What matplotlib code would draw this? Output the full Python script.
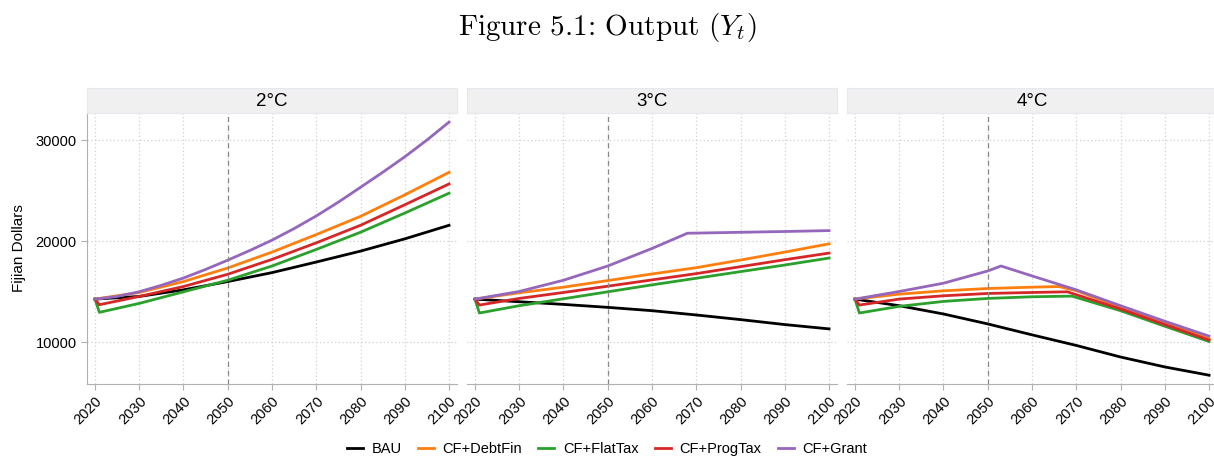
import matplotlib
matplotlib.use("Agg")
import matplotlib.pyplot as plt
from matplotlib.lines import Line2D

plt.rcParams["font.family"] = ["Liberation Sans", "DejaVu Sans"]
plt.rcParams["mathtext.fontset"] = "cm"

# ---------------------------------------------------------------------------
# Data
# ---------------------------------------------------------------------------
panels = ["2°C", "3°C", "4°C"]
series = ["BAU", "CF+DebtFin", "CF+FlatTax", "CF+ProgTax", "CF+Grant"]
colors = ["#000000", "#ff7f0e", "#2ca02c", "#d62728", "#9467bd"]

years_dec = [2020, 2030, 2040, 2050, 2060, 2070, 2080, 2090, 2100]
years_drop = [2020, 2021, 2030, 2040, 2050, 2060, 2070, 2080, 2090, 2100]
years_5 = [2020, 2025, 2030, 2035, 2040, 2045, 2050, 2055, 2060,
           2065, 2070, 2075, 2080, 2085, 2090, 2095, 2100]

# 2°C
bau_2 = [14260, 14525, 15180, 16000, 16885, 17934, 19016, 20230, 21574]
debt_2 = [14260, 14918, 16000, 17344, 18918, 20656, 22459, 24590, 26820]
flat_2 = [14260, 12951, 13836, 14984, 16131, 17541, 19180, 20885, 22787, 24754]
prog_2 = [14260, 13705, 14525, 15508, 16721, 18197, 19836, 21574, 23607, 25672]
grant_2 = [14260, 14520, 14990, 15630, 16350, 17200, 18120, 19080, 20100,
           21250, 22500, 23870, 25340, 26820, 28360, 30020, 31800]

# 3°C
bau_3 = [14260, 14000, 13738, 13443, 13115, 12689, 12230, 11738, 11311]
debt_3 = [14260, 14885, 15443, 16098, 16754, 17377, 18131, 18918, 19738]
flat_3 = [14260, 12885, 13607, 14295, 14984, 15672, 16328, 16984, 17639, 18328]
prog_3 = [14260, 13672, 14328, 14918, 15541, 16164, 16787, 17475, 18164, 18820]
grant_3_years = [2020, 2030, 2040, 2050, 2060, 2068, 2080, 2090, 2100]
grant_3 = [14260, 15016, 16131, 17541, 19279, 20787, 20880, 20960, 21049]

# 4°C
bau_4 = [14260, 13607, 12787, 11803, 10721, 9672, 8525, 7541, 6721]
debt_4_years = [2020, 2030, 2040, 2050, 2060, 2066, 2070, 2080, 2090, 2100]
debt_4 = [14260, 14754, 15082, 15311, 15443, 15508, 15100, 13443, 11902, 10328]
flat_4_years = [2020, 2021, 2030, 2040, 2050, 2060, 2069, 2080, 2090, 2100]
flat_4 = [14260, 12885, 13541, 14033, 14328, 14492, 14557, 13115, 11574, 10066]
prog_4_years = [2020, 2021, 2030, 2040, 2050, 2060, 2068, 2080, 2090, 2100]
prog_4 = [14260, 13672, 14262, 14590, 14820, 14918, 14984, 13279, 11738, 10197]
grant_4_years = [2020, 2030, 2040, 2050, 2053, 2060, 2070, 2080, 2090, 2100]
grant_4 = [14260, 15016, 15836, 17049, 17541, 16557, 15180, 13607, 12066, 10590]

data = [
    [(years_dec, bau_2), (years_dec, debt_2), (years_drop, flat_2),
     (years_drop, prog_2), (years_5, grant_2)],
    [(years_dec, bau_3), (years_dec, debt_3), (years_drop, flat_3),
     (years_drop, prog_3), (grant_3_years, grant_3)],
    [(years_dec, bau_4), (debt_4_years, debt_4), (flat_4_years, flat_4),
     (prog_4_years, prog_4), (grant_4_years, grant_4)],
]

# ---------------------------------------------------------------------------
# Figure
# ---------------------------------------------------------------------------
W, H = 1214, 459
fig = plt.figure(figsize=(W / 100, H / 100), dpi=100)

fig.text(0.5, 1 - 28 / H, "Figure 5.1: Output ($Y_t$)", family="cmr10",
         ha="center", va="center", fontsize=21)

lefts = [87, 467, 847]
pw = 370
ax_bottom = (H - 384) / H
ax_top = (H - 113) / H
strip_h = 25 / H

for i, (lx, label) in enumerate(zip(lefts, panels)):
    ax = fig.add_axes([lx / W, ax_bottom, pw / W, ax_top - ax_bottom])
    for (x, y), c in zip(data[i], colors):
        ax.plot(x, y, color=c, lw=2.0)
    ax.axvline(2050, color="#888888", lw=0.9, ls=(0, (4, 3)))

    ax.set_xlim(2018.2, 2101.8)
    ax.set_ylim(5850, 32700)
    ax.set_xticks(range(2020, 2101, 10))
    ax.set_yticks([10000, 20000, 30000])
    ax.grid(True, color="#d0d0d0", ls=(0, (1, 2)), lw=0.9)
    ax.set_axisbelow(True)

    for s in ["top", "right"]:
        ax.spines[s].set_visible(False)
    ax.spines["bottom"].set_color("#b0b0b0")
    ax.spines["left"].set_color("#b0b0b0")
    ax.tick_params(colors="#b0b0b0", labelcolor="black", labelsize=10.5, length=4)
    for t in ax.get_xticklabels():
        t.set_rotation(45)
        t.set_ha("right")
        t.set_rotation_mode("anchor")

    if i == 0:
        ax.set_ylabel("Fijian Dollars", fontsize=11, labelpad=7)
    else:
        ax.spines["left"].set_visible(False)
        ax.tick_params(axis="y", left=False, labelleft=False)

    # facet strip
    sax = fig.add_axes([lx / W, ax_top, pw / W, strip_h])
    sax.set_facecolor("#f0f0f0")
    sax.set_xticks([])
    sax.set_yticks([])
    for s in sax.spines.values():
        s.set_color("#e3e9ee")
        s.set_linewidth(0.8)
    sax.text(0.5, 0.45, label, ha="center", va="center", fontsize=13.5,
             transform=sax.transAxes)

handles = [Line2D([], [], color=c, lw=2.0) for c in colors]
fig.legend(handles, series, loc="center", bbox_to_anchor=(0.5, 1 - 449 / H),
           ncol=5, frameon=False, fontsize=10.5, handlelength=1.1,
           columnspacing=1.1, handletextpad=0.6)

fig.savefig("out.png", dpi=100)
